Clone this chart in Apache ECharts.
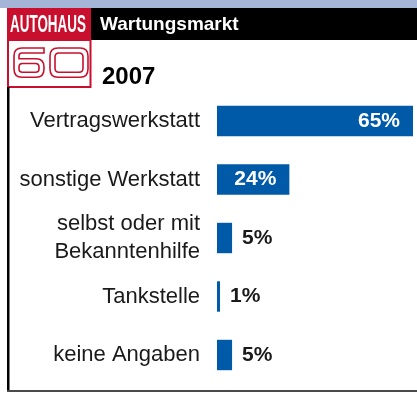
<!DOCTYPE html>
<html>
<head>
<meta charset="utf-8">
<script src="https://cdn.jsdelivr.net/npm/echarts@6/dist/echarts.min.js"></script>
<style>
  html, body { margin: 0; padding: 0; background: #fff; }
  #chart { width: 417px; height: 393px; }
</style>
</head>
<body>
<div id="chart"></div>
<script>
// Wartungsmarkt 2007 – Anteile nach Werkstatttyp
const categories = [
  'Vertragswerkstatt',
  'sonstige Werkstatt',
  'selbst oder mit\nBekanntenhilfe',
  'Tankstelle',
  'keine Angaben'
];
const shares = [65, 24, 5, 1, 5];
const title = 'Wartungsmarkt';
const year = '2007';

const BLUE = '#005aa7';
const RED = '#c8102e';
const TEXT = '#1a1a1a';

// outlined "60" of the logo, registered as custom shapes
const sixPath =
  'M44,48 H22 Q14,48 14,56 V69 Q14,77.3 22,77.3 H36 Q44,77.3 44,69 V67 Q44,58.7 36,58.7 H19 V56 Q19,53 22,53 H44 Z ' +
  'M22.5,63.5 H35.5 Q39,63.5 39,67 V68.8 Q39,72.3 35.5,72.3 H22.5 Q19,72.3 19,68.8 V67 Q19,63.5 22.5,63.5 Z';
const zeroPath =
  'M58,48 H80 Q88,48 88,56 V69 Q88,77.3 80,77.3 H58 Q50,77.3 50,69 V56 Q50,48 58,48 Z ' +
  'M59,53 H79 Q83,53 83,57 V68.3 Q83,72.3 79,72.3 H59 Q55,72.3 55,68.3 V57 Q55,53 59,53 Z';
echarts.graphic.registerShape('logoSix', echarts.graphic.extendPath(sixPath, {}));
echarts.graphic.registerShape('logoZero', echarts.graphic.extendPath(zeroPath, {}));

const chart = echarts.init(document.getElementById('chart'), null, { renderer: 'canvas' });

// long bars carry their value inside in white, short bars next to them in black
const barData = shares.map(v => ({
  value: v,
  label: v >= 10
    ? { position: 'insideRight', color: '#fff', distance: 13 }
    : { position: 'right', color: TEXT, distance: 10 }
}));

chart.setOption({
  animation: false,
  grid: { left: 217, right: 4, top: 91.75, bottom: 8.75, containLabel: false },
  xAxis: {
    type: 'value', min: 0, max: 65, show: false
  },
  yAxis: {
    type: 'category',
    data: categories,
    inverse: true,
    axisLine: { show: false },
    axisTick: { show: false },
    splitLine: { show: false },
    axisLabel: {
      margin: 17,
      fontFamily: 'Liberation Sans',
      fontSize: 22,
      lineHeight: 28,
      color: TEXT,
      align: 'right'
    }
  },
  series: [{
    type: 'bar',
    data: barData,
    barWidth: '52%',
    itemStyle: { color: BLUE },
    label: {
      show: true,
      formatter: p => p.value + '%',
      fontFamily: 'Liberation Sans',
      fontWeight: 'bold',
      fontSize: 21
    }
  }],
  graphic: [
    // light blue top band
    { type: 'rect', shape: { x: 0, y: 0, width: 417, height: 8 }, style: { fill: '#a4b5d7' }, silent: true },
    // black title bar
    { type: 'rect', shape: { x: 90, y: 8, width: 327, height: 32 }, style: { fill: '#000' }, silent: true },
    // red logo band
    { type: 'rect', shape: { x: 7, y: 8, width: 84, height: 32 }, style: { fill: RED }, silent: true },
    // logo box below
    { type: 'rect', shape: { x: 8, y: 40, width: 82.5, height: 47 }, style: { fill: '#fff', stroke: RED, lineWidth: 2 }, silent: true },
    {
      type: 'text', x: 10, y: 25, scaleX: 0.56,
      style: { text: 'AUTOHAUS', fill: '#fff', font: 'bold 24px "Liberation Sans"', verticalAlign: 'middle' },
      silent: true
    },
    { type: 'logoSix', style: { fill: 'none', stroke: RED, lineWidth: 1.6 }, silent: true },
    { type: 'logoZero', style: { fill: 'none', stroke: RED, lineWidth: 1.6 }, silent: true },
    {
      type: 'text', x: 100, y: 25,
      style: { text: title, fill: '#fff', font: 'bold 19px "Liberation Sans"', verticalAlign: 'middle' },
      silent: true
    },
    {
      type: 'text', x: 102, y: 77,
      style: { text: year, fill: '#000', font: 'bold 24px "Liberation Sans"', verticalAlign: 'middle' },
      silent: true
    },
    // left frame line
    { type: 'rect', shape: { x: 7, y: 87, width: 2.5, height: 305 }, style: { fill: '#000' }, silent: true },
    // bottom frame line
    { type: 'rect', shape: { x: 7, y: 390, width: 410, height: 2 }, style: { fill: '#4a4a4a' }, silent: true }
  ]
});
</script>
</body>
</html>
